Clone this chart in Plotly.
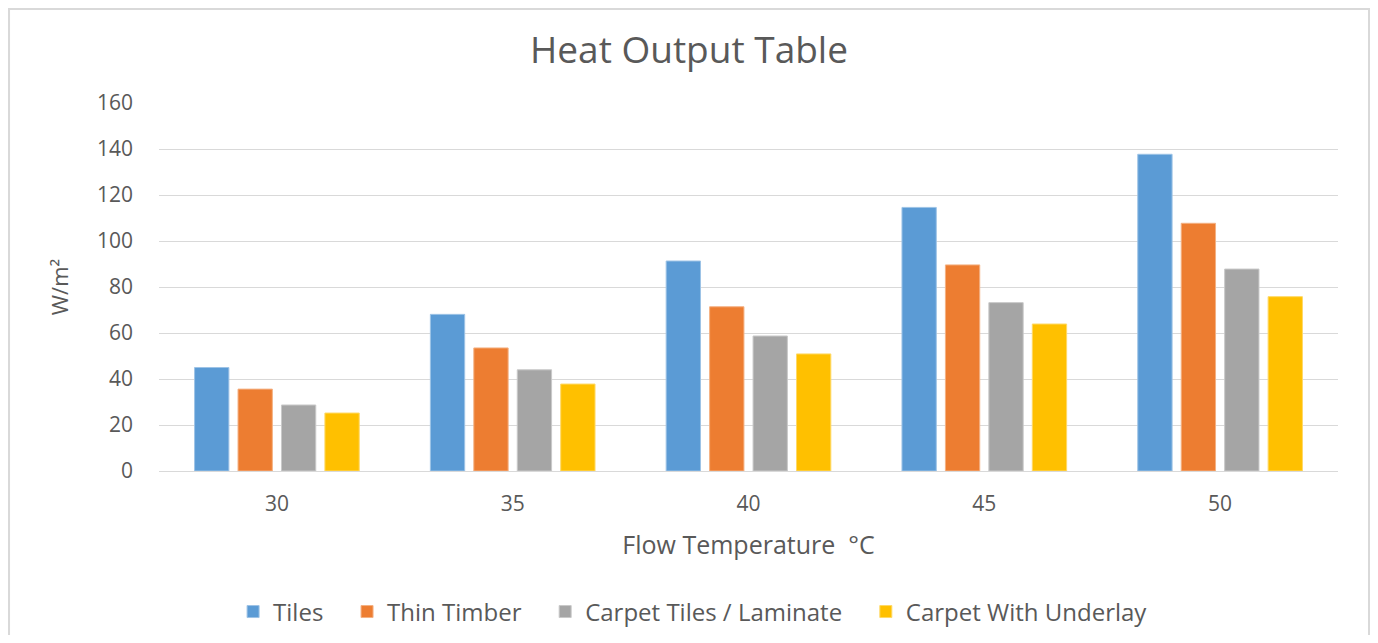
import plotly.graph_objects as go

categories = ["30", "35", "40", "45", "50"]
tiles = [45.0, 68.1, 91.3, 114.6, 137.7]
thin_timber = [35.6, 53.5, 71.4, 89.6, 107.7]
carpet_tiles = [28.7, 44.0, 58.7, 73.2, 87.8]
carpet_underlay = [25.2, 37.8, 50.9, 63.9, 75.8]

series_names = ["Tiles", "Thin Timber", "Carpet Tiles / Laminate", "Carpet With Underlay"]
series_values = [tiles, thin_timber, carpet_tiles, carpet_underlay]
colors = ["#5B9BD5", "#ED7D31", "#A5A5A5", "#FFC000"]
edge_colors = ["#9DC3E6", "#F4B183", "#C9C9C9", "#FFD966"]

FONT = "'Open Sans', Lato, sans-serif"
TXT = "#595959"
PAD = "\u00a0" * 3

fig = go.Figure()
for i, (name, vals, c, e) in enumerate(zip(series_names, series_values, colors, edge_colors)):
    label = name + (PAD if i < len(series_names) - 1 else "")
    fig.add_trace(go.Bar(
        x=categories, y=vals, name=label,
        marker=dict(color=c, line=dict(color=e, width=1)),
    ))

fig.update_layout(
    width=1362, height=627,
    margin=dict(l=151, r=32, t=95, b=164, autoexpand=False),
    paper_bgcolor="white", plot_bgcolor="white",
    barmode="group", bargap=0.263, bargroupgap=0.21,
    font=dict(family=FONT, color=TXT, size=20),
    title=dict(text="Heat Output Table", x=0.5, xanchor="center", y=0.933, yanchor="middle",
               font=dict(family=FONT, size=37, color=TXT)),
    xaxis=dict(
        type="category", showgrid=False, showline=True, linecolor="#d9d9d9", linewidth=1,
        automargin=False,
        ticks="", ticklabelstandoff=14, tickfont=dict(size=21, color=TXT),
        title=dict(text="Flow Temperature  °C", standoff=20, font=dict(size=25, color=TXT)),
    ),
    yaxis=dict(
        range=[0, 160], dtick=20, showgrid=True, gridcolor="#d9d9d9", gridwidth=1,
        zeroline=True, zerolinecolor="#d9d9d9", zerolinewidth=1, automargin=False,
        ticks="", ticklabelstandoff=25, tickfont=dict(size=21, color=TXT),
        title=dict(text="W/m²", standoff=22, font=dict(size=22, color=TXT)),
    ),
    legend=dict(orientation="h", x=0.453, xanchor="center", y=-0.383, yanchor="middle",
                font=dict(size=24, color=TXT), itemwidth=30, traceorder="normal"),
    shapes=[dict(type="rect", xref="paper", yref="paper",
                 x0=-0.1272, x1=1.0263, y0=-0.49, y1=1.2554,
                 line=dict(color="#d9d9d9", width=2), layer="below")],
)

fig.write_html("out.html")
